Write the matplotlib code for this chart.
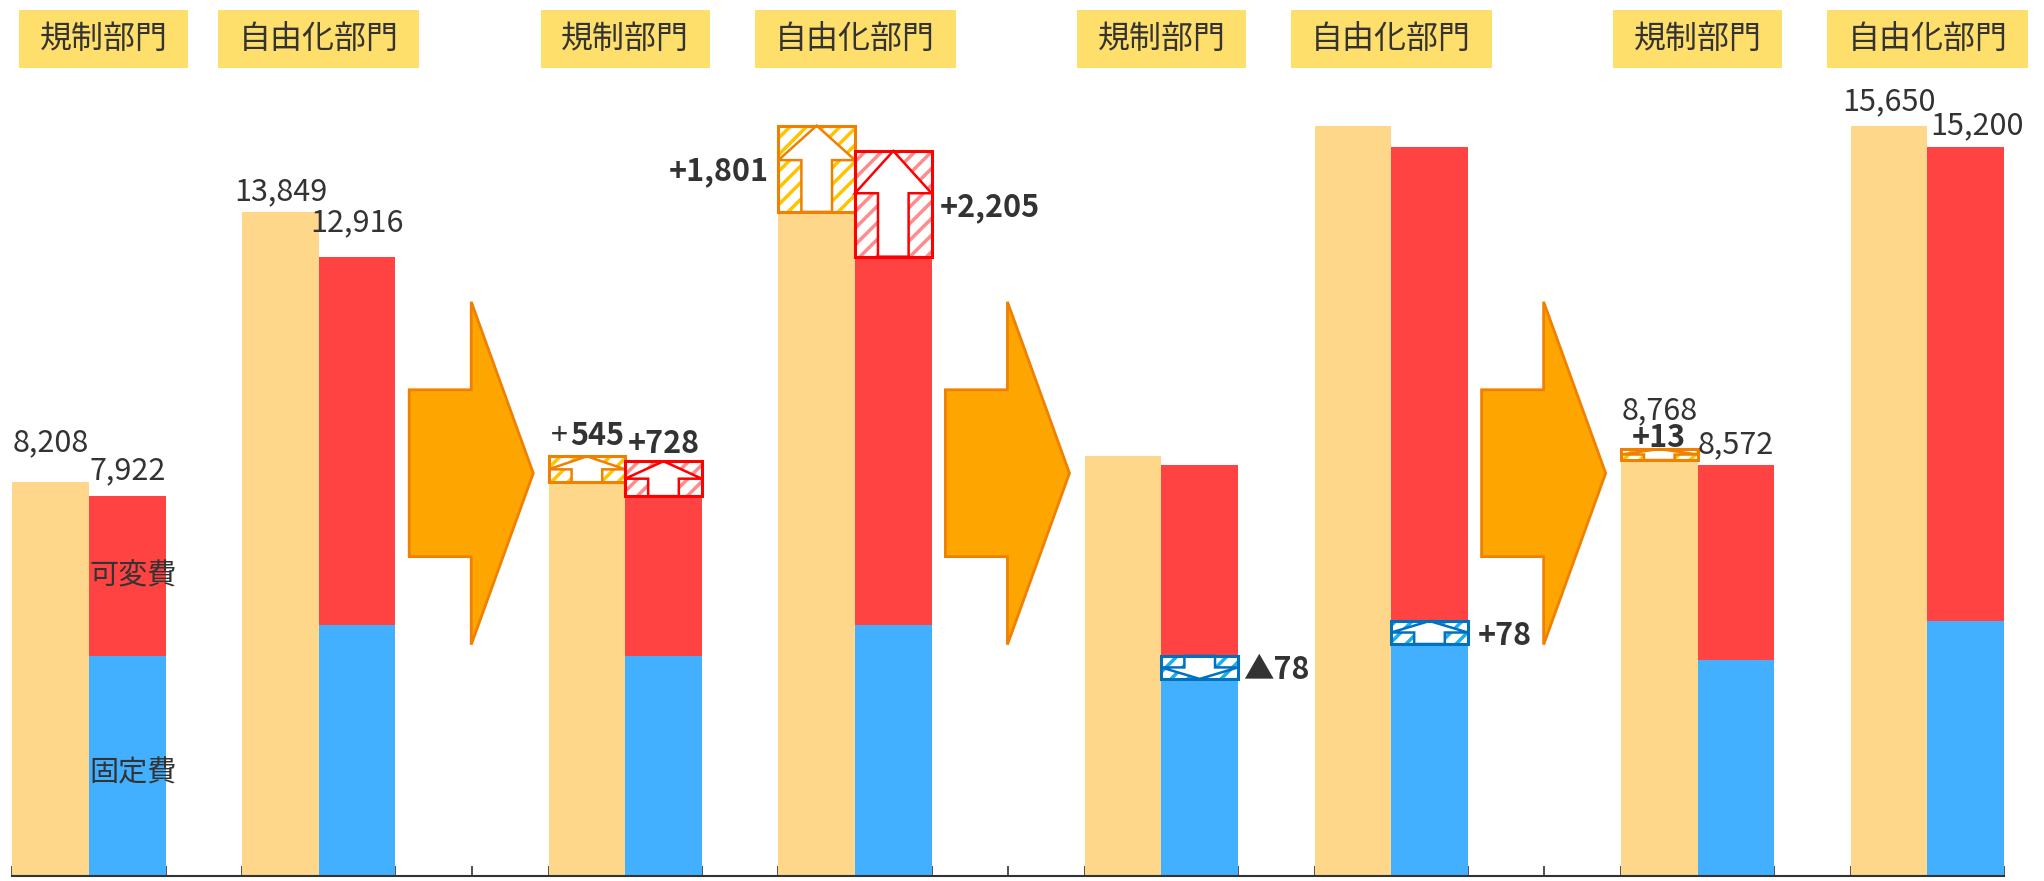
import matplotlib
matplotlib.use('Agg')
import matplotlib.pyplot as plt
import numpy as np
from matplotlib.patches import Rectangle, Polygon

plt.rcParams['font.family'] = ['Noto Sans CJK JP', 'DejaVu Sans']
plt.rcParams['hatch.linewidth'] = 2.5

# --- data ---
depts = ['規制部門', '自由化部門']
rev_before = [8208, 13849]      # revenue, before
fixed_before = [4590, 5240]     # fixed cost, before
cost_before = [7922, 12916]     # total cost, before
rev_up = [545, 1801]            # revenue increase
var_up = [728, 2205]            # variable cost increase
fixed_chg = [-78, 78]           # fixed cost change
rev_up2 = [13, 0]               # further revenue change
rev_after = [8768, 15650]
cost_after = [8572, 15200]
seg_labels = ['可変費', '固定費']

TAN = '#FED78A'
RED = '#FF4343'
BLUE = '#42AFFF'
HEAD = '#FFDF6B'
ARROW = '#FFA500'
TXT = '#333333'
ORANGE_BOX = ('#F08000', '#FFC400')
RED_BOX = ('#FF0000', '#FF8C8C')
BLUE_BOX = ('#0070C0', '#1EAEF0')

PX = 0.04795  # pixels per unit
fig = plt.figure(figsize=(20.44, 8.81), dpi=100)
ax = fig.add_axes([12.4 / 2044, 5 / 881, (2004 - 12.4) / 2044, 876 / 881])
ax.set_xlim(-0.5, 25.5)
ax.set_ylim(0, 876 / PX)


def bar(x, lo, hi, color):
    ax.bar(x, hi - lo, bottom=lo, width=1.0, color=color, linewidth=0, zorder=2)


def delta_box(x, lo, hi, style, up=True):
    edge, hcol = style
    x0, x1 = x - 0.5, x + 0.5
    h = hi - lo
    ax.add_patch(Rectangle((x0, lo), 1.0, h, facecolor='white', edgecolor=hcol,
                           hatch='//', lw=0, zorder=3))
    hb = 0.6 if h > 1000 else 0.5
    s0, s1 = x0 + 0.3, x0 + 0.7
    if up:
        yb = lo + hb * h
        pts = [(s0, lo), (s0, yb), (x0, yb), (x, hi), (x1, yb), (s1, yb), (s1, lo)]
    else:
        yb = hi - hb * h
        pts = [(s0, hi), (s0, yb), (x0, yb), (x, lo), (x1, yb), (s1, yb), (s1, hi)]
    ax.add_patch(Polygon(pts, closed=True, facecolor='white', edgecolor=edge,
                         lw=1.8, zorder=4))
    ax.add_patch(Rectangle((x0, lo), 1.0, h, facecolor='none', edgecolor=edge,
                           lw=2.2, zorder=5))


def label(x, y, s, dx=0, dy=0, ha='center', bold=False, size=22):
    ax.annotate(s, (x, y), xytext=(dx, dy), textcoords='offset pixels',
                ha=ha, va='baseline', fontsize=size, color=TXT,
                fontweight='bold' if bold else 'normal', zorder=6,
                annotation_clip=False)


stages = [0, 7, 14, 21]

# stage A: before
for d in range(2):
    x = stages[0] + 3 * d
    bar(x, 0, rev_before[d], TAN)
    bar(x + 1, 0, fixed_before[d], BLUE)
    bar(x + 1, fixed_before[d], cost_before[d], RED)

label(0, rev_before[0], f'{rev_before[0]:,}', dy=31)
label(1, cost_before[0], f'{cost_before[0]:,}', dy=17)
label(3, rev_before[1], f'{rev_before[1]:,}', dy=12)
label(4, cost_before[1], f'{cost_before[1]:,}', dy=25)

# segment labels
ax.text(0.5, (fixed_before[0] + cost_before[0]) / 2, seg_labels[0], ha='left',
        va='center', fontsize=21, color=TXT, zorder=6)
ax.text(0.5, fixed_before[0] / 2 - 150, seg_labels[1], ha='left',
        va='center', fontsize=21, color=TXT, zorder=6)

# stage B: increases
for d in range(2):
    x = stages[1] + 3 * d
    bar(x, 0, rev_before[d], TAN)
    bar(x + 1, 0, fixed_before[d], BLUE)
    bar(x + 1, fixed_before[d], cost_before[d], RED)
    delta_box(x, rev_before[d], rev_before[d] + rev_up[d], ORANGE_BOX)
    delta_box(x + 1, cost_before[d], cost_before[d] + var_up[d], RED_BOX)

x = stages[1]
label(x, rev_before[0] + rev_up[0], '+', dx=-19, dy=11, ha='right')
label(x, rev_before[0] + rev_up[0], f'{rev_up[0]:,}', dx=-17, dy=11, ha='left', bold=True)
label(x + 1, cost_before[0] + var_up[0], f'+{var_up[0]:,}', dy=8, bold=True)
x = stages[1] + 3
label(x - 0.5, rev_before[1] + rev_up[1] / 2, f'+{rev_up[1]:,}', dx=-10, dy=-11,
      ha='right', bold=True)
label(x + 1.5, cost_before[1] + var_up[1] / 2, f'+{var_up[1]:,}', dx=8, dy=-12,
      ha='left', bold=True)

# stage C: fixed cost change
for d in range(2):
    x = stages[2] + 3 * d
    fixed_new = fixed_before[d] + fixed_chg[d]
    bar(x, 0, rev_before[d] + rev_up[d], TAN)
    bar(x + 1, 0, fixed_new, BLUE)
    bar(x + 1, fixed_new, cost_after[d], RED)
    top = max(fixed_before[d], fixed_new)
    delta_box(x + 1, top - 480, top, BLUE_BOX, up=fixed_chg[d] > 0)
    txt = (f'+{fixed_chg[d]}' if fixed_chg[d] > 0 else f'▲{-fixed_chg[d]}')
    label(x + 1.5, top - 240, txt, dx=5 if fixed_chg[d] < 0 else 10, dy=-12,
          ha='left', bold=True)

# stage D: after
for d in range(2):
    x = stages[3] + 3 * d
    fixed_new = fixed_before[d] + fixed_chg[d]
    bar(x, 0, rev_after[d] - rev_up2[d], TAN)
    bar(x + 1, 0, fixed_new, BLUE)
    bar(x + 1, fixed_new, cost_after[d], RED)

x = stages[3]
lo = rev_after[0] - rev_up2[0] - 80
delta_box(x, lo, lo + 230, ORANGE_BOX)
label(x, lo + 230, f'+{rev_up2[0]}', dy=2, bold=True)
label(x, lo + 230, f'{rev_after[0]:,}', dy=30)
label(x + 1, cost_after[0], f'{cost_after[0]:,}', dy=12)
label(x + 3, rev_after[1], f'{rev_after[1]:,}', dy=15)
label(x + 4, cost_after[1], f'{cost_after[1]:,}', dx=11, dy=13)

# big transition arrows
y_mid, body_half, head_half = 8400, 1740, 3575
for k in range(3):
    left = 4.68 + 7 * k
    base, tip = left + 0.81, left + 1.62
    pts = [(left, y_mid + body_half), (base, y_mid + body_half), (base, y_mid + head_half),
           (tip, y_mid), (base, y_mid - head_half), (base, y_mid - body_half),
           (left, y_mid - body_half)]
    ax.add_patch(Polygon(pts, closed=True, facecolor=ARROW, edgecolor='#F08000',
                         lw=2, zorder=2))

# header boxes
hy0, hy1 = (876 - 68) / PX, (876 - 10) / PX
for i, s in enumerate(stages):
    for d in range(2):
        cx = s + 3 * d + 0.5
        w = (169 if d == 0 else 201) / 76.6
        cx = max(cx, -0.41 + w / 2)
        ax.add_patch(Rectangle((cx - w / 2, hy0), w, hy1 - hy0, facecolor=HEAD,
                               lw=0, clip_on=False, zorder=5))
        ax.text(cx, (hy0 + hy1) / 2, depts[d], ha='center', va='center',
                fontsize=23, color=TXT, zorder=6)

ax.set_xticks(np.arange(-0.5, 26, 1))
ax.set_yticks([])
ax.tick_params(axis='x', direction='in', length=7, width=1.2, color=TXT,
               labelbottom=False)
for sp in ['top', 'left', 'right']:
    ax.spines[sp].set_visible(False)
ax.spines['bottom'].set_color(TXT)
ax.spines['bottom'].set_linewidth(1.5)

fig.savefig('out.png', dpi=100)
